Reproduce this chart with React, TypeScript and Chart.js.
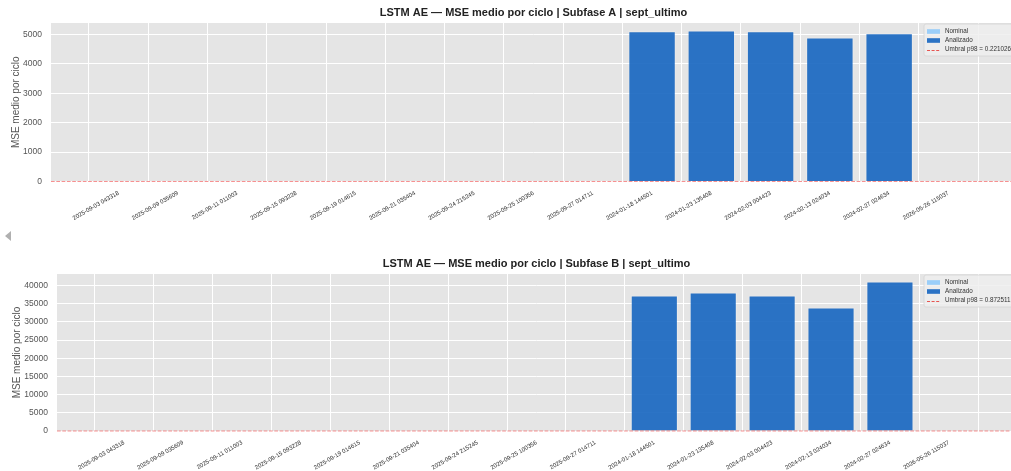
import React, { useEffect, useRef } from "react";
import { Chart, registerables } from "chart.js";

Chart.register(...registerables);

// ---------- data ----------
const categoryLabels: string[] = [
  "2025-09-03 043318",
  "2025-09-09 035609",
  "2025-09-11 011003",
  "2025-09-15 093228",
  "2025-09-19 014615",
  "2025-09-21 035404",
  "2025-09-24 215245",
  "2025-09-25 100356",
  "2025-09-27 014711",
  "2024-01-18 144501",
  "2024-01-23 135408",
  "2024-02-03 004423",
  "2024-02-13 024034",
  "2024-02-27 024634",
  "2026-05-26 115037",
];

const nominalA: (number | null)[] = [null, null, null, null, null, null, null, null, null, null, null, null, null, null, null];
const analizadoA: (number | null)[] = [null, null, null, null, null, null, null, null, null, 5112, 5136, 5112, 4898, 5044, null];
const nominalB: (number | null)[] = [null, null, null, null, null, null, null, null, null, null, null, null, null, null, null];
const analizadoB: (number | null)[] = [null, null, null, null, null, null, null, null, null, 37240, 38070, 37240, 33930, 41100, null];

const thresholdA = 0.221026;
const thresholdB = 0.872511;
const yTicksA: number[] = [0, 1000, 2000, 3000, 4000, 5000];
const yTicksB: number[] = [0, 5000, 10000, 15000, 20000, 25000, 30000, 35000, 40000];

const titleA = "LSTM AE — MSE medio por ciclo | Subfase A | sept_ultimo";
const titleB = "LSTM AE — MSE medio por ciclo | Subfase B | sept_ultimo";
const yTitle = "MSE medio por ciclo";
const legendNominal = "Nominal";
const legendAnalizado = "Analizado";
const legendUmbral = "Umbral p98 = ";

// ---------- styles ----------
const FONT = "'Liberation Sans', Arial, sans-serif";
const NOMINAL_COLOR = "rgba(144,202,249,0.9)";
const ANALIZADO_COLOR = "rgba(21,101,192,0.9)";
const THRESH_COLOR = "rgba(240,70,70,0.6)";
const X_MIN = -1.14;
const X_MAX = 15.14;

type PanelProps = {
  title: string;
  nominal: (number | null)[];
  analizado: (number | null)[];
  threshold: number;
  yTicks: number[];
  top: number;
  height: number;
  plotTop: number;
  plotBottom: number;
  plotLeft: number;
  plotRight: number;
  yTitlePad: number;
};

const CANVAS_W = 1040;

function Panel(p: PanelProps) {
  const ref = useRef<HTMLCanvasElement | null>(null);

  useEffect(() => {
    const canvas = ref.current;
    if (!canvas) return;

    const maxVal = Math.max(...(p.analizado.filter((v) => v !== null) as number[]));
    const yMax = maxVal * 1.05;

    const titlePlugin = {
      id: "mplTitle",
      afterDraw(chart: any) {
        const { ctx, chartArea } = chart;
        ctx.save();
        ctx.font = `bold 11px ${FONT}`;
        ctx.fillStyle = "#222";
        ctx.textAlign = "center";
        ctx.textBaseline = "middle";
        ctx.fillText(p.title, (chartArea.left + chartArea.right) / 2, chartArea.top - 10);
        ctx.restore();
      },
    };

    const legendPlugin = {
      id: "mplLegend",
      afterDraw(chart: any) {
        const { ctx, chartArea } = chart;
        ctx.save();
        ctx.font = `6.3px ${FONT}`;
        const umbralText = legendUmbral + p.threshold.toFixed(6);
        const tw = ctx.measureText(umbralText).width;
        const bx = chartArea.right - 92;
        const by = chartArea.top + 1;
        const bw = 21 + tw + 5;
        const bh = 32;
        ctx.beginPath();
        const r = 2;
        ctx.moveTo(bx + r, by);
        ctx.lineTo(bx + bw - r, by);
        ctx.quadraticCurveTo(bx + bw, by, bx + bw, by + r);
        ctx.lineTo(bx + bw, by + bh - r);
        ctx.quadraticCurveTo(bx + bw, by + bh, bx + bw - r, by + bh);
        ctx.lineTo(bx + r, by + bh);
        ctx.quadraticCurveTo(bx, by + bh, bx, by + bh - r);
        ctx.lineTo(bx, by + r);
        ctx.quadraticCurveTo(bx, by, bx + r, by);
        ctx.closePath();
        ctx.fillStyle = "rgba(238,238,238,0.85)";
        ctx.fill();
        ctx.strokeStyle = "#d4d4d4";
        ctx.lineWidth = 0.8;
        ctx.stroke();

        const hx = bx + 3;
        const hw = 13;
        const rows = [by + 7.5, by + 16.5, by + 25.5];
        ctx.fillStyle = NOMINAL_COLOR;
        ctx.fillRect(hx, rows[0] - 2.3, hw, 4.6);
        ctx.fillStyle = ANALIZADO_COLOR;
        ctx.fillRect(hx, rows[1] - 2.3, hw, 4.6);
        ctx.strokeStyle = "rgba(229,57,53,0.85)";
        ctx.lineWidth = 1;
        ctx.setLineDash([3, 1.6]);
        ctx.beginPath();
        ctx.moveTo(hx, Math.round(rows[2]) + 0.5);
        ctx.lineTo(hx + hw, Math.round(rows[2]) + 0.5);
        ctx.stroke();
        ctx.setLineDash([]);

        ctx.fillStyle = "#333";
        ctx.textAlign = "left";
        ctx.textBaseline = "middle";
        const tx = hx + 18;
        ctx.fillText(legendNominal, tx, rows[0]);
        ctx.fillText(legendAnalizado, tx, rows[1]);
        ctx.fillText(umbralText, tx, rows[2]);
        ctx.restore();
      },
    };

    const bgPlugin = {
      id: "plotBg",
      beforeDraw(chart: any) {
        const { ctx, chartArea } = chart;
        ctx.save();
        ctx.fillStyle = "#e5e5e5";
        ctx.fillRect(chartArea.left, chartArea.top, chartArea.right - chartArea.left, chartArea.bottom - chartArea.top);
        ctx.restore();
      },
    };

    const xAxisHeight = p.height - p.plotBottom;

    const chart = new Chart(canvas, {
      type: "bar",
      data: {
        datasets: [
          {
            type: "line",
            label: "Umbral",
            data: [
              { x: X_MIN, y: p.threshold },
              { x: X_MAX, y: p.threshold },
            ],
            borderColor: THRESH_COLOR,
            borderWidth: 1,
            borderDash: [3.7, 1.6],
            pointRadius: 0,
            clip: false,
            order: 0,
          } as any,
          {
            label: legendNominal,
            data: p.nominal.map((v, i) => ({ x: i, y: v })),
            backgroundColor: NOMINAL_COLOR,
            grouped: false,
            barPercentage: 0.8,
            categoryPercentage: 1,
            order: 2,
          } as any,
          {
            label: legendAnalizado,
            data: p.analizado.map((v, i) => ({ x: i, y: v })),
            backgroundColor: ANALIZADO_COLOR,
            borderColor: "rgba(255,255,255,0.25)",
            borderWidth: 1,
            grouped: false,
            barPercentage: 0.8,
            categoryPercentage: 1,
            order: 1,
          } as any,
        ],
      },
      options: {
        animation: false,
        responsive: false,
        devicePixelRatio: 1,
        layout: {
          padding: { top: p.plotTop, right: CANVAS_W - p.plotRight, left: 0, bottom: 0 },
        },
        plugins: {
          legend: { display: false },
          tooltip: { enabled: false },
          title: { display: false },
        },
        scales: {
          x: {
            type: "linear",
            min: X_MIN,
            max: X_MAX,
            offset: false,
            border: { display: false },
            grid: { color: "#ffffff", lineWidth: 1, drawTicks: false },
            afterBuildTicks: (scale: any) => {
              scale.ticks = categoryLabels.map((_, i) => ({ value: i }));
            },
            afterFit: (scale: any) => {
              scale.height = xAxisHeight;
            },
            ticks: {
              autoSkip: false,
              minRotation: 30,
              maxRotation: 30,
              padding: 8,
              color: "#333",
              font: { family: FONT, size: 6 },
              callback: (v: any) => categoryLabels[v as number] ?? "",
            },
          } as any,
          y: {
            type: "linear",
            min: 0,
            max: yMax,
            border: { display: false },
            grid: { color: "#ffffff", lineWidth: 1, drawTicks: false },
            afterBuildTicks: (scale: any) => {
              scale.ticks = p.yTicks.map((v) => ({ value: v }));
            },
            afterFit: (scale: any) => {
              scale.width = p.plotLeft;
            },
            ticks: {
              autoSkip: false,
              padding: 9,
              color: "#555",
              font: { family: FONT, size: 8.5 },
              callback: (v: any) => String(v),
            },
            title: {
              display: true,
              text: yTitle,
              color: "#555",
              font: { family: FONT, size: 10 },
              padding: { top: p.yTitlePad, bottom: 0 },
            },
          } as any,
        },
      },
      plugins: [bgPlugin, titlePlugin, legendPlugin],
    } as any);

    return () => chart.destroy();
  }, []);

  return (
    <div style={{ position: "absolute", left: 0, top: p.top, width: CANVAS_W, height: p.height }}>
      <canvas ref={ref} width={CANVAS_W} height={p.height} style={{ width: CANVAS_W, height: p.height, display: "block" }} />
    </div>
  );
}

export default function App() {
  return (
    <div style={{ position: "fixed", left: 0, top: 0, width: 1011, height: 471, overflow: "hidden", background: "#fff" }}>
      <Panel
        title={titleA}
        nominal={nominalA}
        analizado={analizadoA}
        threshold={thresholdA}
        yTicks={yTicksA}
        top={0}
        height={235}
        plotTop={23}
        plotBottom={181.5}
        plotLeft={51}
        plotRight={1016}
        yTitlePad={10}
      />
      <Panel
        title={titleB}
        nominal={nominalB}
        analizado={analizadoB}
        threshold={thresholdB}
        yTicks={yTicksB}
        top={245}
        height={226}
        plotTop={29}
        plotBottom={186}
        plotLeft={57}
        plotRight={1016}
        yTitlePad={11}
      />
      <div
        style={{
          position: "absolute",
          left: 5,
          top: 231,
          width: 0,
          height: 0,
          borderTop: "5px solid transparent",
          borderBottom: "5px solid transparent",
          borderRight: "6px solid #b0b0b0",
        }}
      />
    </div>
  );
}
